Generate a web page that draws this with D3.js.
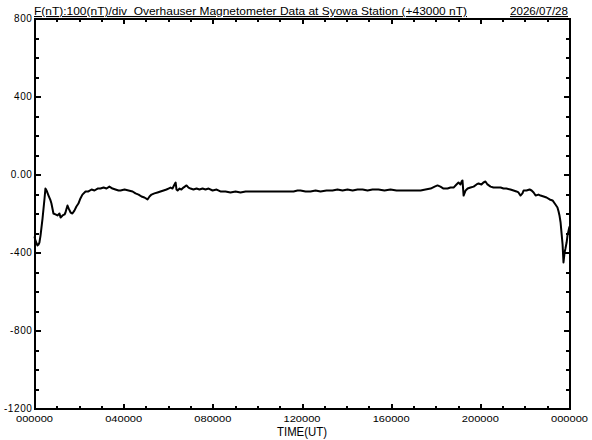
<!DOCTYPE html>
<html>
<head>
<meta charset="utf-8">
<script src="https://cdn.jsdelivr.net/npm/d3@7"></script>
<style>
  html, body { margin: 0; padding: 0; background: #fff; }
  svg { display: block; }
  text { font-family: "Liberation Sans", Arial, sans-serif; fill: #000; }
</style>
</head>
<body>
<svg id="chart" width="592" height="440"></svg>
<script>
// ---- Data (hours UT, F minus 43000 nT) ----
const hours = [0.00,0.04,0.13,0.18,0.22,0.27,0.36,0.45,0.49,0.54,0.63,0.72,0.76,0.85,0.94,1.03,1.12,1.17,1.26,1.35,1.39,1.44,1.48,1.53,1.62,1.70,1.79,1.88,1.97,2.06,2.15,2.29,2.42,2.56,2.69,2.83,2.96,3.10,3.23,3.36,3.50,3.63,3.77,3.86,4.04,4.22,4.40,4.53,4.67,4.80,4.93,5.07,5.16,5.25,5.38,5.52,5.65,5.79,5.92,6.01,6.10,6.19,6.28,6.33,6.37,6.42,6.51,6.59,6.68,6.82,6.91,7.00,7.13,7.27,7.40,7.54,7.67,7.81,7.99,8.17,8.34,8.57,8.79,9.02,9.24,9.47,9.69,10.14,10.59,11.04,11.62,11.80,11.93,12.16,12.38,12.61,12.83,13.10,13.37,13.59,13.82,14.04,14.27,14.49,14.72,14.94,15.16,15.43,15.70,15.97,16.24,16.51,16.78,17.05,17.32,17.54,17.77,17.95,18.08,18.21,18.35,18.53,18.66,18.80,18.93,19.02,19.11,19.16,19.20,19.25,19.34,19.43,19.56,19.70,19.83,19.92,20.05,20.14,20.23,20.32,20.46,20.59,20.73,20.91,21.04,21.17,21.35,21.49,21.62,21.71,21.80,21.89,21.94,22.07,22.21,22.30,22.39,22.48,22.61,22.70,22.84,22.97,23.11,23.24,23.37,23.46,23.51,23.55,23.60,23.64,23.69,23.73,23.78,23.82,23.87,23.91,23.96,24.00];
const values = [-318,-338,-364,-359,-349,-313,-226,-123,-72,-82,-108,-133,-149,-200,-205,-210,-200,-221,-210,-205,-195,-174,-159,-174,-195,-200,-185,-164,-149,-123,-103,-87,-87,-77,-82,-72,-72,-67,-72,-62,-72,-77,-82,-82,-77,-82,-87,-97,-103,-113,-118,-128,-113,-103,-97,-92,-87,-82,-77,-72,-67,-72,-51,-41,-77,-82,-72,-77,-67,-56,-67,-72,-77,-72,-77,-72,-77,-72,-82,-77,-87,-87,-92,-87,-92,-87,-87,-87,-87,-87,-87,-82,-82,-87,-87,-82,-87,-82,-82,-77,-82,-77,-82,-77,-77,-82,-77,-77,-82,-77,-82,-82,-82,-82,-82,-77,-72,-62,-56,-62,-72,-72,-67,-67,-51,-41,-51,-36,-31,-108,-82,-72,-67,-62,-51,-46,-51,-41,-36,-51,-62,-67,-67,-67,-72,-72,-77,-82,-87,-92,-108,-97,-82,-82,-77,-82,-92,-108,-103,-108,-113,-118,-128,-133,-154,-169,-190,-210,-246,-297,-359,-451,-400,-379,-349,-313,-287,-267];

const yTickValues = [800, 400, 0, -400, -800, -1200];
const yTickLabels = ["800", "400", "0.00", "-400", "-800", "-1200"];
const xTickValues = [0, 4, 8, 12, 16, 20, 24];
const xTickLabels = ["000000", "040000", "080000", "120000", "160000", "200000", "000000"];
const yMinorTicks = d3.range(-1200, 801, 100);
const xMinorTicks = d3.range(0, 25, 1);

const titleText = "F(nT):100(nT)/div  Overhauser Magnetometer Data at Syowa Station (+43000 nT)";
const dateText = "2026/07/28";
const xTitle = "TIME(UT)";

// ---- Layout ----
const L = 34.5, R = 569.5, T = 18.5, B = 408.5;
const svg = d3.select("#chart");
const x = d3.scaleLinear().domain([0, 24]).range([L, R]);
const y = d3.scaleLinear().domain([-1200, 800]).range([B, T]);

// minor ticks (inward)
const gMinor = svg.append("g").attr("stroke", "#000").attr("stroke-width", 2).attr("shape-rendering", "crispEdges");
function minorAxis(axis, transform) {
  const g = svg.append("g").attr("transform", transform).call(axis);
  g.select(".domain").remove();
  g.selectAll("line").attr("stroke", "#000").attr("stroke-width", 2).attr("shape-rendering", "crispEdges");
  g.selectAll("text").remove();
  return g;
}
minorAxis(d3.axisLeft(y).tickValues(yMinorTicks).tickSize(-4), `translate(${L},0)`);
minorAxis(d3.axisRight(y).tickValues(yMinorTicks).tickSize(-4), `translate(${R},0)`);
minorAxis(d3.axisBottom(x).tickValues(xMinorTicks).tickSize(-3), `translate(0,${B})`);
minorAxis(d3.axisTop(x).tickValues(xMinorTicks).tickSize(-3), `translate(0,${T})`);
// major ticks (longer)
minorAxis(d3.axisLeft(y).tickValues(yTickValues).tickSize(-6), `translate(${L},0)`);
minorAxis(d3.axisRight(y).tickValues(yTickValues).tickSize(-6), `translate(${R},0)`);
minorAxis(d3.axisBottom(x).tickValues(xTickValues).tickSize(-5), `translate(0,${B})`);
minorAxis(d3.axisTop(x).tickValues(xTickValues).tickSize(-5), `translate(0,${T})`);

// frame
svg.append("rect")
  .attr("x", L).attr("y", T).attr("width", R - L).attr("height", B - T)
  .attr("fill", "none").attr("stroke", "#000").attr("stroke-width", 2)
  .attr("shape-rendering", "crispEdges");

// y labels
svg.append("g").selectAll("text").data(yTickValues).join("text")
  .attr("x", L - 2).attr("y", d => y(d) + 3.5)
  .attr("text-anchor", "end")
  .attr("font-size", 10)
  .attr("letter-spacing", 0.6)
  .text((d, i) => yTickLabels[i]);

// x labels
svg.append("g").selectAll("text").data(xTickValues).join("text")
  .attr("x", d => x(d)).attr("y", B + 13)
  .attr("text-anchor", "middle")
  .attr("font-size", 9.5)
  .attr("textLength", 37).attr("lengthAdjust", "spacingAndGlyphs")
  .text((d, i) => xTickLabels[i]);

// axis title
svg.append("text")
  .attr("x", (L + R) / 2).attr("y", 436)
  .attr("text-anchor", "middle")
  .attr("font-size", 13)
  .attr("textLength", 50).attr("lengthAdjust", "spacingAndGlyphs")
  .text(xTitle);

// title
svg.append("text")
  .attr("x", 34).attr("y", 15)
  .attr("font-size", 11)
  .attr("xml:space", "preserve")
  .style("white-space", "pre")
  .style("text-decoration", "underline")
  .attr("textLength", 433).attr("lengthAdjust", "spacingAndGlyphs")
  .text(titleText);

svg.append("text")
  .attr("x", 510).attr("y", 15)
  .attr("font-size", 11)
  .style("text-decoration", "underline")
  .attr("textLength", 58).attr("lengthAdjust", "spacingAndGlyphs")
  .text(dateText);

// data line
const data = hours.map((h, i) => [h, values[i]]);
svg.append("path")
  .datum(data)
  .attr("fill", "none")
  .attr("stroke", "#000")
  .attr("stroke-width", 2)
  .attr("stroke-linejoin", "round")
  .attr("d", d3.line().x(d => x(d[0])).y(d => y(d[1])));
</script>
</body>
</html>
